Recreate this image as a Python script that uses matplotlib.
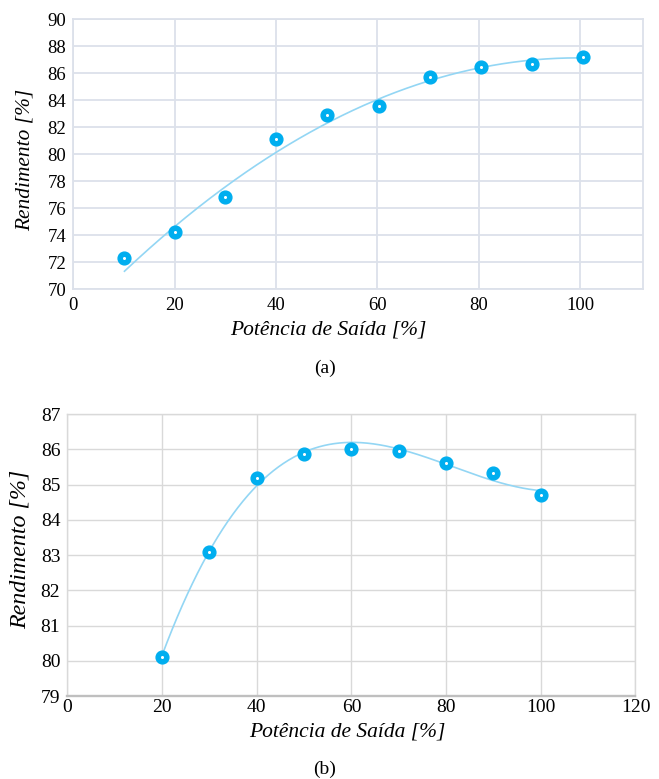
import numpy as np
import matplotlib
matplotlib.use("Agg")
import matplotlib.pyplot as plt

plt.rcParams['font.family'] = ['Liberation Serif', 'DejaVu Serif']

# ---- data (a) ----
pot_a = [10, 20, 30, 40, 50, 60.3, 70.3, 80.4, 90.5, 100.5]
rend_a = [72.27, 74.2, 76.8, 81.1, 82.9, 83.6, 85.7, 86.5, 86.7, 87.2]
# trendline of (a) (quadratic trendline)
trend_a_x = [10.1, 20, 30, 40, 60, 80, 100.5]
trend_a_y = [71.33, 74.62, 77.51, 80.2, 84.1, 86.3, 87.17]
xticks_a = [0, 20, 40, 60, 80, 100]
yticks_a = [70, 72, 74, 76, 78, 80, 82, 84, 86, 88, 90]

# ---- data (b) ----
pot_b = [20, 30, 40, 50, 60, 70, 80, 90, 100]
rend_b = [80.1, 83.1, 85.2, 85.87, 86.02, 85.96, 85.61, 85.33, 84.71]
xticks_b = [0, 20, 40, 60, 80, 100, 120]
yticks_b = [79, 80, 81, 82, 83, 84, 85, 86, 87]

xlabel = "Potência de Saída [%]"
ylabel = "Rendimento [%]"

MARK = "#00AEEF"
LINE = "#93D6F4"

fig = plt.figure(figsize=(6.59, 7.79), dpi=100)

def draw(ax, x, y, tx, ty, deg, xlim, ylim, xt, yt, gcol, glw, bcol, blw, tfs, yfs, xlpos, ylpos, xlfs, ylfs):
    ax.set_xlim(*xlim)
    ax.set_ylim(*ylim)
    ax.set_xticks(xt)
    ax.set_yticks(yt)
    ax.grid(True, color=gcol, lw=glw, zorder=0)
    ax.set_axisbelow(True)
    for s in ['top', 'right', 'left']:
        ax.spines[s].set_color(gcol)
        ax.spines[s].set_linewidth(glw)
    ax.spines['bottom'].set_color(bcol)
    ax.spines['bottom'].set_linewidth(blw)
    ax.tick_params(length=0, labelsize=tfs, pad=5)
    ax.tick_params(axis='x', pad=yfs)
    # polynomial trendline
    c = np.polyfit(tx, ty, deg)
    xx = np.linspace(min(tx), max(tx), 300)
    ax.plot(xx, np.polyval(c, xx), color=LINE, lw=1.2, zorder=2)
    ax.plot(x, y, 'o', color=MARK, ms=9.2, mec=MARK, zorder=3)
    ax.plot(x, y, 'o', color='white', ms=2.2, mew=0, zorder=4)
    ax.text(xlpos[0], xlpos[1], xlabel, transform=ax.transAxes, ha='center', va='center',
            fontsize=xlfs, style='italic')
    ax.text(ylpos[0], ylpos[1], ylabel, transform=ax.transAxes, ha='center', va='center',
            fontsize=ylfs, style='italic', rotation=90)

ax1 = fig.add_axes([0.1112, 0.6290, 0.8645, 0.3462])
draw(ax1, pot_a, rend_a, trend_a_x, trend_a_y, 2, (0, 112.4), (70, 90), xticks_a, yticks_a,
     "#DCE1EA", 1.3, "#DCE1EA", 1.3, 13.5, 6,
     ((328 - 73.3) / 569.7, (289 - 330) / 269.7),
     ((25 - 73.3) / 569.7, (289 - 160) / 269.7), 15.5, 15.4)

ax2 = fig.add_axes([0.1021, 0.1065, 0.8622, 0.3617])
draw(ax2, pot_b, rend_b, pot_b, rend_b, 3, (0, 120), (79, 87), xticks_b, yticks_b,
     "#D9D9D9", 1.0, "#BFBFBF", 1.7, 14, 2,
     ((347.5 - 67.3) / 568.2, (696 - 732) / 281.7),
     ((20 - 67.3) / 568.2, (696 - 549) / 281.7), 15.5, 17.3)

fig.text(324.7 / 659, 1 - 368 / 779, "(a)", ha='center', va='center', fontsize=14)
fig.text(325 / 659, 1 - 769 / 779, "(b)", ha='center', va='center', fontsize=14)

fig.savefig("out.png", dpi=100)
